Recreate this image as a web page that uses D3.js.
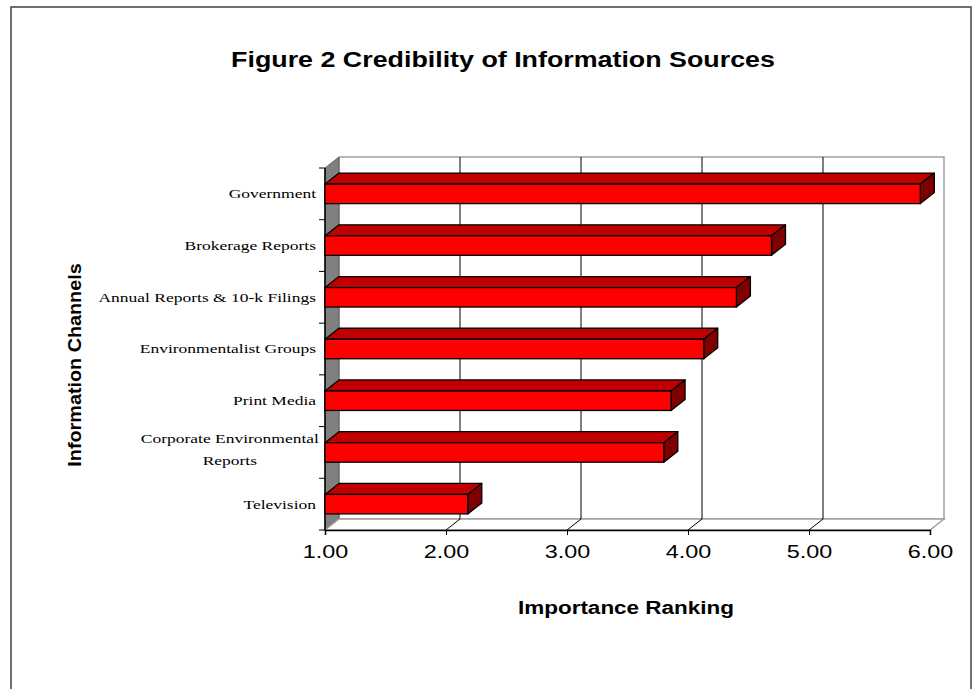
<!DOCTYPE html>
<html>
<head>
<meta charset="utf-8">
<script src="https://cdn.jsdelivr.net/npm/d3@7/dist/d3.min.js"></script>
<style>
  html, body { margin: 0; padding: 0; background: #fff; }
  svg { display: block; }
</style>
</head>
<body>
<svg id="chart" width="979" height="689"></svg>
<script>
// Information channels, top to bottom, with their mean ranking
const categories = [
  "Government",
  "Brokerage Reports",
  "Annual Reports & 10-k Filings",
  "Environmentalist Groups",
  "Print Media",
  "Corporate Environmental|Reports",
  "Television"
];
const values = [5.92, 4.69, 4.40, 4.13, 3.86, 3.80, 2.18];
const tickValues = [1, 2, 3, 4, 5, 6];

(function () {
const svg = d3.select("#chart");
const sans = "Liberation Sans, Arial, sans-serif";
const serif = "Liberation Serif, Times New Roman, serif";

// outer frame
svg.append("rect")
  .attr("x", 11).attr("y", 7).attr("width", 960).attr("height", 700)
  .attr("fill", "#fff").attr("stroke", "#404040").attr("stroke-width", 1.5);

// front plane of the plot box and 3-D depth offset
const pLeft = 325, pRight = 930, pTop = 168, pBottom = 530;
const dx = 14, dy = -11;

const x = d3.scaleLinear().domain([1, 6]).range([pLeft, pRight]);
const y = d3.scaleBand().domain(categories).range([pTop, pBottom]).paddingInner(0).paddingOuter(0);
const barH = 19.5;

// back wall
svg.append("rect")
  .attr("x", pLeft + dx).attr("y", pTop + dy)
  .attr("width", pRight - pLeft).attr("height", pBottom - pTop)
  .attr("fill", "#fff").attr("stroke", "#a0a0a0").attr("stroke-width", 1.5);

// side wall
svg.append("polygon")
  .attr("points", [[pLeft, pTop], [pLeft + dx, pTop + dy], [pLeft + dx, pBottom + dy], [pLeft, pBottom]].join(" "))
  .attr("fill", "#808080").attr("stroke", "#606060").attr("stroke-width", 1);

// floor
svg.append("polygon")
  .attr("points", [[pLeft, pBottom], [pLeft + dx, pBottom + dy], [pRight + dx, pBottom + dy], [pRight, pBottom]].join(" "))
  .attr("fill", "#fff").attr("stroke", "#a0a0a0").attr("stroke-width", 1.5);

// gridlines on back wall and floor
const grid = svg.append("g");
tickValues.slice(1, -1).forEach(v => {
  grid.append("line")
    .attr("x1", x(v) + dx).attr("x2", x(v) + dx)
    .attr("y1", pTop + dy).attr("y2", pBottom + dy)
    .attr("stroke", "#000").attr("stroke-width", 1);
  grid.append("line")
    .attr("x1", x(v)).attr("y1", pBottom)
    .attr("x2", x(v) + dx).attr("y2", pBottom + dy)
    .attr("stroke", "#000").attr("stroke-width", 1);
});

// front value axis
const xAxis = d3.axisBottom(x).tickValues(tickValues).tickFormat(d3.format(".2f")).tickSize(5).tickPadding(10);
const gx = svg.append("g").attr("transform", `translate(0,${pBottom})`).call(xAxis);
gx.select(".domain").attr("stroke", "#000").attr("stroke-width", 1.5);
gx.selectAll(".tick line").attr("stroke", "#000");
gx.selectAll("text")
  .attr("font-family", sans)
  .attr("font-size", 18).attr("fill", "#000")
  .attr("transform", "scale(1.3,1)")
  .attr("x", 0);

// category axis: vertical line and ticks at band boundaries
svg.append("line")
  .attr("x1", pLeft).attr("x2", pLeft).attr("y1", pTop).attr("y2", pBottom)
  .attr("stroke", "#000").attr("stroke-width", 1.5);
const bounds = categories.map(c => y(c)).concat([pBottom]);
svg.append("g").selectAll("line").data(bounds).join("line")
  .attr("x1", pLeft - 6).attr("x2", pLeft)
  .attr("y1", d => d).attr("y2", d => d)
  .attr("stroke", "#000").attr("stroke-width", 1);

// bars: top face, side face, front face
const bars = svg.append("g");
categories.forEach((c, i) => {
  const v = values[i];
  const yc = y(c) + y.bandwidth() / 2;
  const y0 = yc - barH / 2, y1 = yc + barH / 2;
  const x0 = x(1), x1 = x(v);
  bars.append("polygon")
    .attr("points", [[x0, y0], [x0 + dx, y0 + dy], [x1 + dx, y0 + dy], [x1, y0]].join(" "))
    .attr("fill", "#c00000").attr("stroke", "#000").attr("stroke-width", 1.3).attr("stroke-linejoin", "round");
  bars.append("polygon")
    .attr("points", [[x1, y0], [x1 + dx, y0 + dy], [x1 + dx, y1 + dy], [x1, y1]].join(" "))
    .attr("fill", "#800000").attr("stroke", "#000").attr("stroke-width", 1.3).attr("stroke-linejoin", "round");
  bars.append("rect")
    .attr("x", x0).attr("y", y0).attr("width", x1 - x0).attr("height", y1 - y0)
    .attr("fill", "#ff0000").attr("stroke", "#000").attr("stroke-width", 1.3);
});

// category labels, horizontally widened; multi-line labels centred within their block
const sx = 1.4;
const labels = svg.append("g")
  .attr("font-family", serif)
  .attr("font-size", 12.5).attr("fill", "#000");
categories.forEach(c => {
  const lines = c.split("|");
  const yc = y(c) + y.bandwidth() / 2;
  const lh = 22;
  if (lines.length === 1) {
    labels.append("text")
      .attr("transform", `translate(316,${yc}) scale(${sx},1)`)
      .attr("dy", "0.35em").attr("text-anchor", "end").text(lines[0]);
  } else {
    const probe = labels.append("text").text(lines[0]);
    const w = probe.node().getComputedTextLength() * sx;
    probe.remove();
    const cx = 319 - w / 2;
    lines.forEach((l, k) => {
      labels.append("text")
        .attr("transform", `translate(${cx},${yc - 3 + (k - (lines.length - 1) / 2) * lh}) scale(${sx},1)`)
        .attr("dy", "0.35em").attr("text-anchor", "middle").text(l);
    });
  }
});

// titles
svg.append("text")
  .attr("transform", "translate(503,67) scale(1.22,1)").attr("text-anchor", "middle")
  .attr("font-family", sans).attr("font-size", 22).attr("font-weight", "bold")
  .text("Figure 2 Credibility of Information Sources");

svg.append("text")
  .attr("transform", "translate(626,614) scale(1.25,1)").attr("text-anchor", "middle")
  .attr("font-family", sans).attr("font-size", 18).attr("font-weight", "bold")
  .text("Importance Ranking");

svg.append("text")
  .attr("transform", "translate(81,365) rotate(-90) scale(1.1,1)").attr("text-anchor", "middle")
  .attr("font-family", sans).attr("font-size", 18).attr("font-weight", "bold")
  .text("Information Channels");
})();
</script>
</body>
</html>
